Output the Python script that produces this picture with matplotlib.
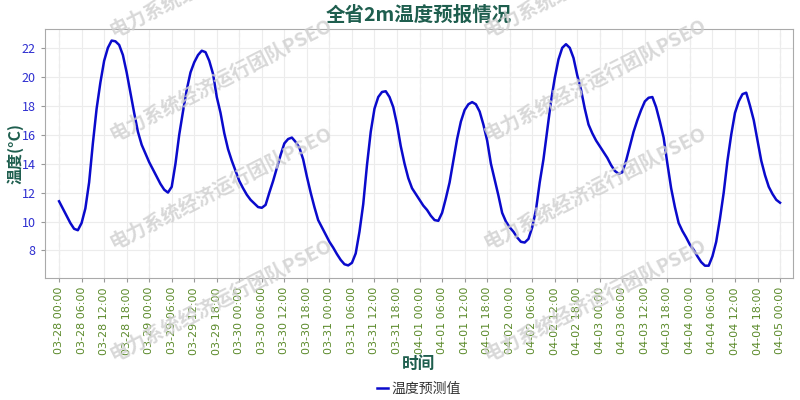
import numpy as np
import pandas as pd
import matplotlib
matplotlib.use("Agg")
import matplotlib.pyplot as plt

plt.rcParams["font.family"] = ["Noto Sans CJK SC", "DejaVu Sans"]
plt.rcParams["axes.unicode_minus"] = False

# hourly forecast, 03-28 00:00 .. 04-05 00:00
temp = [
    11.4, 10.9, 10.4, 9.9, 9.5, 9.4, 9.9, 10.9, 12.7, 15.4, 17.8, 19.6,
    21.1, 22.0, 22.5, 22.45, 22.2, 21.5, 20.3, 18.9, 17.5, 16.2, 15.3, 14.7,
    14.1, 13.6, 13.1, 12.6, 12.2, 12.0, 12.4, 14.0, 16.0, 17.6, 19.1, 20.3,
    21.0, 21.5, 21.8, 21.7, 21.1, 20.2, 18.6, 17.5, 16.1, 15.0, 14.2, 13.5,
    12.8, 12.3, 11.85, 11.5, 11.25, 11.0, 10.95, 11.15, 12.0, 12.8, 13.7, 14.6,
    15.4, 15.7, 15.8, 15.5, 15.1, 14.3, 13.1, 12.0, 11.0, 10.1, 9.6, 9.1,
    8.6, 8.2, 7.75, 7.35, 7.05, 6.97, 7.15, 7.8, 9.3, 11.2, 13.9, 16.2,
    17.8, 18.6, 18.95, 19.0, 18.6, 17.9, 16.7, 15.2, 14.0, 13.0, 12.3, 11.9,
    11.5, 11.1, 10.8, 10.4, 10.1, 10.05, 10.6, 11.6, 12.7, 14.2, 15.7, 16.9,
    17.7, 18.1, 18.25, 18.1, 17.6, 16.7, 15.6, 14.0, 12.9, 11.8, 10.6, 10.0,
    9.6, 9.3, 8.9, 8.6, 8.55, 8.8, 9.6, 10.8, 12.7, 14.3, 16.3, 18.3,
    19.9, 21.2, 22.0, 22.25, 22.0, 21.3, 20.1, 19.1, 17.8, 16.7, 16.1, 15.6,
    15.2, 14.8, 14.4, 13.9, 13.5, 13.3, 13.4, 14.2, 15.2, 16.2, 17.0, 17.7,
    18.3, 18.55, 18.6, 17.9, 16.9, 15.8, 14.0, 12.3, 11.0, 9.9, 9.35, 8.9,
    8.4, 8.05, 7.6, 7.2, 6.95, 6.95, 7.6, 8.6, 10.2, 12.0, 14.2, 16.0,
    17.5, 18.3, 18.8, 18.9, 18.0, 17.0, 15.6, 14.2, 13.2, 12.4, 11.9, 11.5,
    11.3,
]
times = pd.date_range("2024-03-28 00:00", periods=len(temp), freq="h")
tick_labels = [t.strftime("%m-%d %H:%M") for t in times[::6]]

title = "全省2m温度预报情况"
ylabel = "温度(°C)"
xlabel = "时间"
series_name = "温度预测值"
watermark = "电力系统经济运行团队PSEO"

teal = "#1e5e4e"
hours = np.arange(len(temp))

fig = plt.figure(figsize=(8, 4), dpi=100)
ax = fig.add_axes([0.056, 0.305, 0.935, 0.6225])

# watermark, tiled in two columns
for cx in [0.277, 0.744]:
    for cy in [1.06, 0.80, 0.532, 0.25]:
        fig.text(cx, cy, watermark, rotation=27, fontsize=14, fontweight="bold",
                 color="#cfcfcf", alpha=0.8, ha="center", va="center", zorder=0)

ax.set_facecolor("none")
ax.plot(hours, temp, color="#0a0acc", lw=1.8, label=series_name, zorder=3)

ax.set_xlim(-3.8, 195.4)
ax.set_ylim(6.1, 23.3)
ax.set_xticks(hours[::6])
ax.set_xticklabels(tick_labels, rotation=90, fontsize=8, color="#5b8a2a",
                   family="DejaVu Sans")
ax.set_yticks(np.arange(8, 23, 2))
ax.tick_params(axis="y", labelsize=9, labelcolor="#2e2ed0", color="#999999", length=3)
ax.tick_params(axis="x", color="#999999", length=3)

ax.grid(True, color="#ececec", lw=0.8, zorder=0)
for d in hours[::24]:
    ax.axvline(d, color="#bbbbbb", lw=0.8, ls=(0, (4, 3)), zorder=1)
for s in ax.spines.values():
    s.set_color("#aaaaaa")

ax.set_title(title, fontsize=14, fontweight="bold", color=teal, pad=6)
ax.set_ylabel(ylabel, fontsize=11.5, fontweight="bold", color=teal)
ax.yaxis.set_label_coords(-0.029, 0.5)
ax.set_xlabel(xlabel, fontsize=12, fontweight="bold", color=teal, labelpad=0)

leg = ax.legend(loc="center", bbox_to_anchor=(0.5, -0.445), frameon=False,
                fontsize=10, handlelength=0.8, handletextpad=0.2,
                borderpad=0.1)
for t in leg.get_texts():
    t.set_color("#333333")

fig.savefig("out.png", dpi=100)
